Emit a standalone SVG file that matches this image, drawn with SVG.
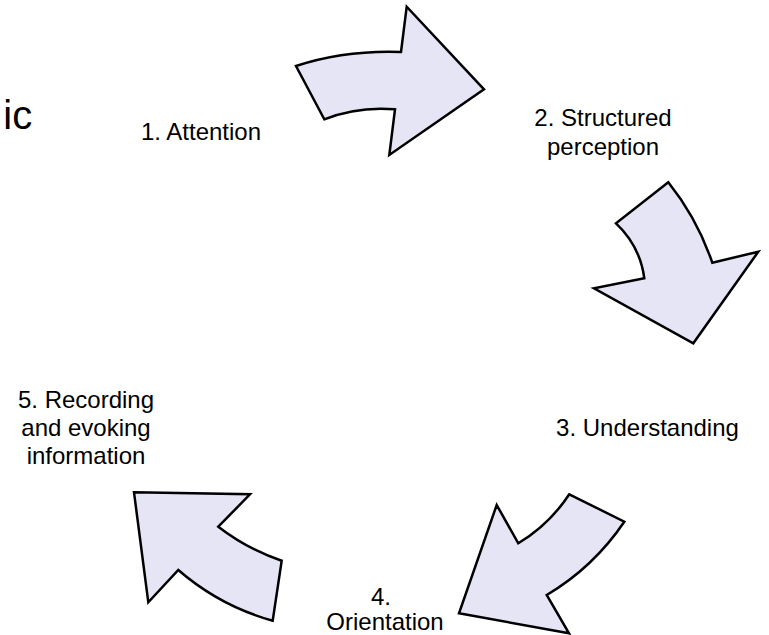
<svg xmlns="http://www.w3.org/2000/svg" width="769" height="635" viewBox="0 0 769 635">
  <style>
    .arrow { fill: #E5E5F5; stroke: #000; stroke-width: 2.5; stroke-linejoin: miter; }
    .label { font-family: "Liberation Sans", Arial, sans-serif; font-size: 24px; fill: #000; text-anchor: middle; }
    .title { font-family: "Liberation Sans", Arial, sans-serif; font-size: 40px; fill: #000; }
  </style>
  <rect width="769" height="635" fill="#fff"/>

  <text class="title" x="3.3" y="128.5">ic</text>

  <g id="connectors">
    <path id="arrow-1-2" class="arrow" d="M296,66 Q345,50 401,52 L406.7,6.7 L484,89.3 L389.3,155 L395,109.3 Q358,106 324.3,119.3 Z"/>
    <path id="arrow-2-3" class="arrow" d="M668.3,182.3 Q697.3,218.7 712.3,262.7 L758.3,251.7 L693.3,343.3 L594,288.3 L644.3,278.3 Q640,245.8 616,223.3 Z"/>
    <path id="arrow-3-4" class="arrow" d="M569.3,494.3 L624.3,521.7 Q593.7,567 546.7,595 L569,633.3 L459,613.3 L496.7,505 L518.3,543.3 Q549.3,524.6 569.3,494.3 Z"/>
    <path id="arrow-4-5" class="arrow" d="M134,492.3 L250,494.3 L218.3,526.7 Q247.2,549 281.7,560.7 L272.7,620.7 Q219.8,606 178.3,570 L148.3,602.3 Z"/>
  </g>

  <g id="node-1">
    <text class="label" x="201" y="140">1. Attention</text>
  </g>
  <g id="node-2">
    <text class="label" x="603" y="126">2. Structured</text>
    <text class="label" x="603" y="155">perception</text>
  </g>
  <g id="node-3">
    <text class="label" x="647.5" y="436">3. Understanding</text>
  </g>
  <g id="node-4">
    <text class="label" x="381" y="605">4.</text>
    <text class="label" x="385" y="630">Orientation</text>
  </g>
  <g id="node-5">
    <text class="label" x="86" y="408">5. Recording</text>
    <text class="label" x="86" y="436">and evoking</text>
    <text class="label" x="86" y="464">information</text>
  </g>
</svg>
